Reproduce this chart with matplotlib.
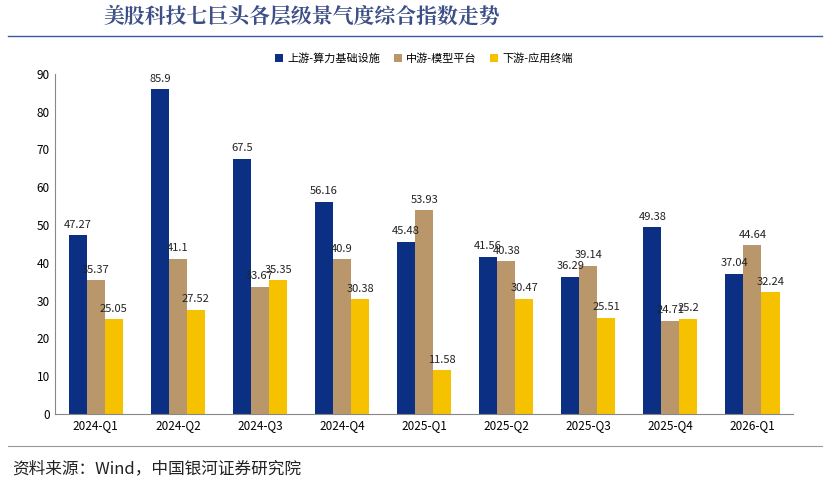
import numpy as np
import matplotlib.pyplot as plt

plt.rcParams['font.family'] = ['Noto Sans CJK SC', 'DejaVu Sans']

quarters = ['2024-Q1', '2024-Q2', '2024-Q3', '2024-Q4', '2025-Q1',
            '2025-Q2', '2025-Q3', '2025-Q4', '2026-Q1']
upstream = [47.27, 85.9, 67.5, 56.16, 45.48, 41.56, 36.29, 49.38, 37.04]
midstream = [35.37, 41.1, 33.67, 40.9, 53.93, 40.38, 39.14, 24.71, 44.64]
downstream = [25.05, 27.52, 35.35, 30.38, 11.58, 30.47, 25.51, 25.2, 32.24]
labels = ['上游-算力基础设施', '中游-模型平台', '下游-应用终端']
colors = ['#0b2f82', '#b9976a', '#f6c200']

fig = plt.figure(figsize=(8.3, 4.86), dpi=100)
ax = fig.add_axes([0.066, 0.148, 0.89, 0.70])

x = np.arange(len(quarters))
w = 0.22
for i, (vals, lab, c) in enumerate(zip([upstream, midstream, downstream], labels, colors)):
    pos = x + (i - 1) * w
    ax.bar(pos, vals, w, color=c, label=lab)
    for p, v in zip(pos, vals):
        ax.text(p, v + 1.5, f'{v:g}', ha='center', va='bottom', fontsize=8, color='#222222')

ax.set_ylim(0, 90)
ax.set_yticks(range(0, 91, 10))
ax.set_xlim(-0.5, len(quarters) - 0.5)
ax.set_xticks(x)
ax.set_xticklabels(quarters)
ax.tick_params(labelsize=8.5, length=0)
for s in ['top', 'right']:
    ax.spines[s].set_visible(False)
ax.spines['left'].set_color('#888888')
ax.spines['bottom'].set_color('#888888')
ax.legend(loc='upper center', bbox_to_anchor=(0.5, 1.09), ncol=3, frameon=False,
          fontsize=8, handlelength=0.7, handleheight=0.7, columnspacing=1.2, handletextpad=0.4)

fig.text(0.125, 0.965, '美股科技七巨头各层级景气度综合指数走势', fontsize=15,
         fontweight='bold', color='#3c4f86', va='center', family=['Noto Serif CJK SC', 'Noto Sans CJK SC'])
fig.add_artist(plt.Line2D([0.01, 0.99], [0.925, 0.925], color='#3c5a9a', lw=1))
fig.add_artist(plt.Line2D([0.01, 0.99], [0.082, 0.082], color='#999999', lw=0.8))
fig.text(0.015, 0.035, '资料来源：Wind，中国银河证券研究院', fontsize=12, style='italic',
         color='#222222', va='center')

fig.savefig('out.png')
